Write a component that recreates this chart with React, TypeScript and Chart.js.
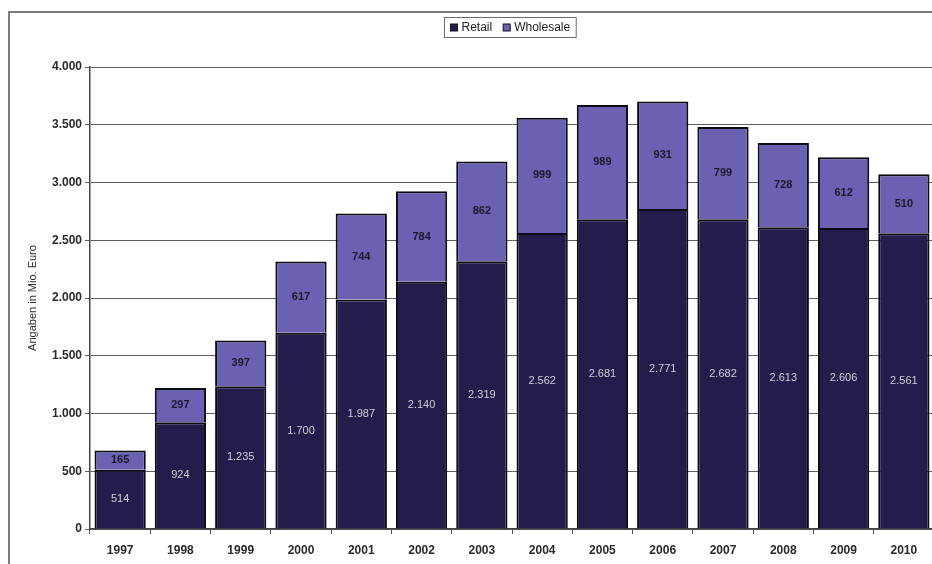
import React, { useEffect, useRef } from 'react';
import { Chart, registerables } from 'chart.js';

Chart.register(...registerables);

const years = ['1997', '1998', '1999', '2000', '2001', '2002', '2003', '2004', '2005', '2006', '2007', '2008', '2009', '2010'];
const retail = [514, 924, 1235, 1700, 1987, 2140, 2319, 2562, 2681, 2771, 2682, 2613, 2606, 2561];
const wholesale = [165, 297, 397, 617, 744, 784, 862, 999, 989, 931, 799, 728, 612, 510];
const seriesNames = ['Retail', 'Wholesale'];
const yAxisTitle = 'Angaben in Mio. Euro';
const yMax = 4000;
const yStep = 500;

const RETAIL_COLOR = '#221d4b';
const WHOLESALE_COLOR = '#6b61b2';
const FONT = '"Liberation Sans", Arial, sans-serif';

const fmt = (v: number) => String(Math.round(v)).replace(/\B(?=(\d{3})+(?!\d))/g, '.');

const framePlugin = {
  id: 'frame',
  beforeDraw(chart: any) {
    const ctx = chart.ctx;
    ctx.save();
    ctx.fillStyle = '#ffffff';
    ctx.fillRect(0, 0, chart.width, chart.height);
    ctx.strokeStyle = '#7a7a7a';
    ctx.lineWidth = 2;
    ctx.beginPath();
    ctx.moveTo(9, chart.height + 5);
    ctx.lineTo(9, 12);
    ctx.lineTo(chart.width + 5, 12);
    ctx.stroke();
    ctx.restore();
  },
};

const legendPlugin = {
  id: 'boxLegend',
  afterDraw(chart: any) {
    const ctx = chart.ctx;
    const area = chart.chartArea;
    ctx.save();
    ctx.font = `12px ${FONT}`;
    const sq = 7;
    const gapSqText = 4;
    const gapItems = 11;
    const padX = 6;
    const items = chart.data.datasets.map((d: any) => ({
      label: d.label,
      color: d.backgroundColor,
      w: ctx.measureText(d.label).width,
    }));
    let total = padX * 2;
    items.forEach((it: any, i: number) => {
      total += sq + gapSqText + it.w + (i < items.length - 1 ? gapItems : 0);
    });
    const cx = (area.left + area.right) / 2 - 2;
    const left = Math.round(cx - total / 2) + 0.5;
    const top = 17.5;
    const h = 20;
    ctx.strokeStyle = '#6a6a6a';
    ctx.lineWidth = 1;
    ctx.strokeRect(left, top, total, h);
    let x = left + padX;
    const cy = top + h / 2;
    items.forEach((it: any) => {
      ctx.fillStyle = it.color;
      ctx.fillRect(x, cy - sq / 2, sq, sq);
      ctx.strokeStyle = '#111';
      ctx.strokeRect(x, cy - sq / 2, sq, sq);
      x += sq + gapSqText;
      ctx.fillStyle = '#222';
      ctx.textBaseline = 'middle';
      ctx.textAlign = 'left';
      ctx.fillText(it.label, x, cy + 0.5);
      x += it.w + gapItems;
    });
    ctx.restore();
  },
};

const labelPlugin = {
  id: 'segLabels',
  afterDatasetsDraw(chart: any) {
    const ctx = chart.ctx;
    ctx.save();
    ctx.textAlign = 'center';
    ctx.textBaseline = 'middle';
    chart.data.datasets.forEach((ds: any, di: number) => {
      const meta = chart.getDatasetMeta(di);
      ctx.fillStyle = di === 0 ? '#d0d0da' : '#1a1a2a';
      ctx.font = di === 0 ? `11px ${FONT}` : `bold 11px ${FONT}`;
      meta.data.forEach((el: any, i: number) => {
        const v = ds.data[i];
        const y = (el.y + el.base) / 2;
        ctx.fillText(fmt(v), el.x, y);
      });
    });
    ctx.restore();
  },
};

export default function App() {
  const ref = useRef<HTMLCanvasElement | null>(null);

  useEffect(() => {
    if (!ref.current) return;
    const chart = new Chart(ref.current, {
      type: 'bar',
      data: {
        labels: years,
        datasets: [
          {
            label: seriesNames[0],
            data: retail,
            backgroundColor: RETAIL_COLOR,
            borderColor: '#0a0a12',
            borderWidth: 2,
            barPercentage: 0.85,
            categoryPercentage: 1,
          },
          {
            label: seriesNames[1],
            data: wholesale,
            backgroundColor: WHOLESALE_COLOR,
            borderColor: '#0a0a12',
            borderWidth: 2,
            barPercentage: 0.85,
            categoryPercentage: 1,
          },
        ],
      },
      options: {
        responsive: false,
        animation: false,
        devicePixelRatio: 1,
        layout: { padding: { top: 67, left: 0, right: 11, bottom: 0 } },
        plugins: {
          legend: { display: false },
          tooltip: { enabled: false },
          title: { display: false },
        },
        scales: {
          x: {
            stacked: true,
            grid: {
              offset: true,
              drawOnChartArea: false,
              drawTicks: true,
              tickLength: 5,
              color: '#555',
            },
            border: { display: true, color: '#444', width: 1.5 },
            ticks: {
              padding: 9,
              color: '#2a2a2a',
              font: { family: FONT, size: 12, weight: 'bold' },
              maxRotation: 0,
            },
            afterFit: (scale: any) => {
              scale.height = 35;
            },
          },
          y: {
            stacked: true,
            min: 0,
            max: yMax,
            ticks: {
              stepSize: yStep,
              padding: 3,
              color: '#2a2a2a',
              font: { family: FONT, size: 12, weight: 'bold' },
              callback: (v: any) => fmt(Number(v)),
            },
            grid: {
              color: '#5e5e5e',
              lineWidth: 1,
              drawTicks: true,
              tickLength: 5,
            },
            border: { display: true, color: '#444', width: 1.5 },
            title: {
              display: true,
              text: yAxisTitle,
              color: '#2a2a2a',
              font: { family: FONT, size: 11 },
              padding: { top: 26, bottom: 0 },
            },
            afterFit: (scale: any) => {
              scale.width = 90;
            },
          },
        },
      },
      plugins: [framePlugin, labelPlugin, legendPlugin],
    });
    return () => chart.destroy();
  }, []);

  return (
    <div style={{ position: 'fixed', left: 0, top: 0, width: 932, height: 564, overflow: 'hidden', background: '#fff' }}>
      <canvas ref={ref} width={945} height={564} style={{ display: 'block', width: 945, height: 564 }} />
    </div>
  );
}
